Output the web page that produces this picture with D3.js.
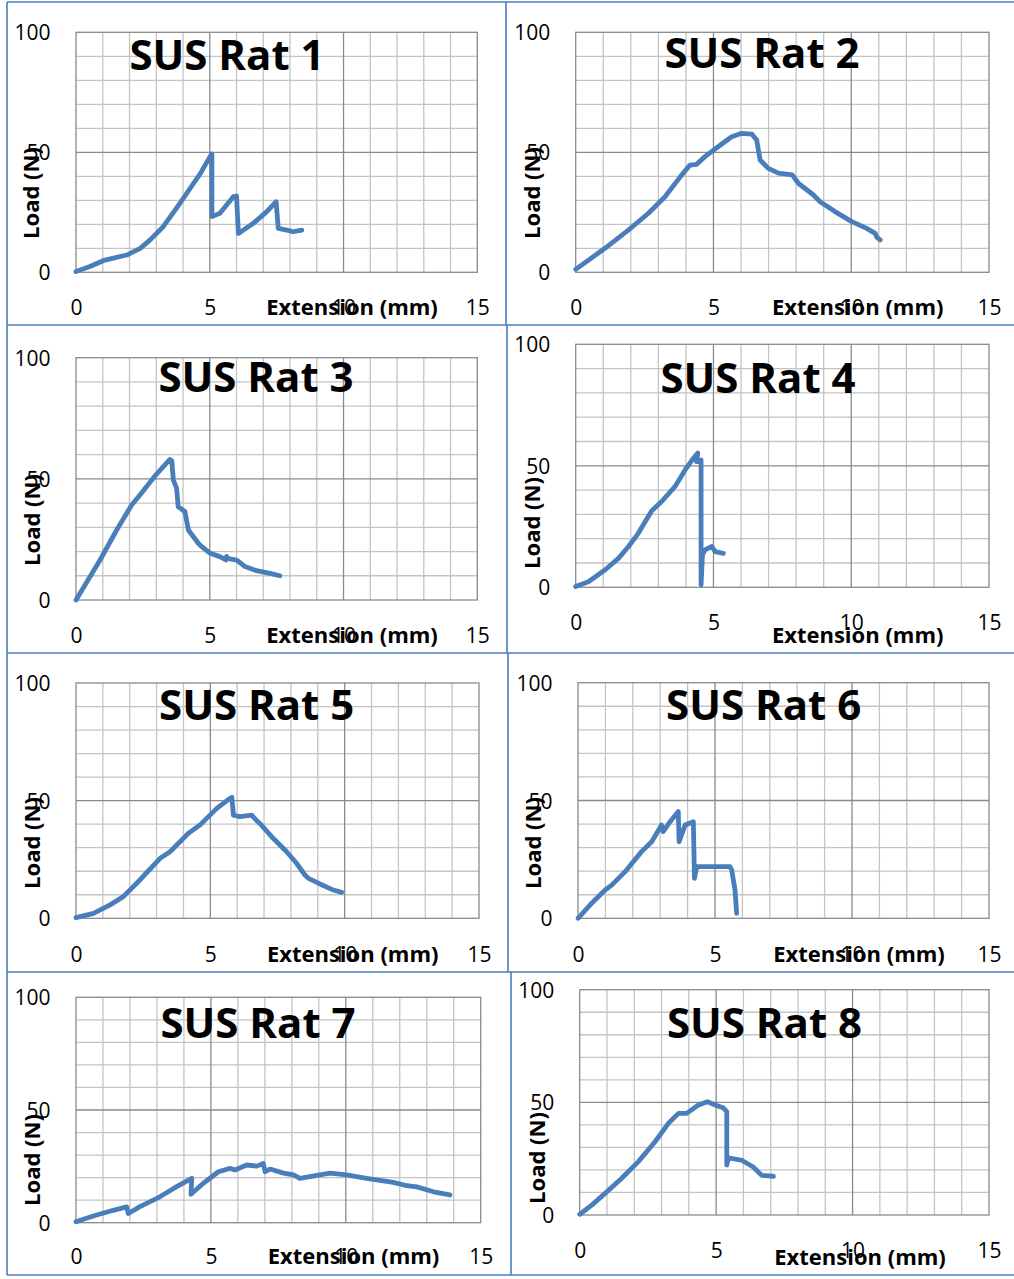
<!DOCTYPE html>
<html>
<head>
<meta charset="utf-8">
<script src="https://cdn.jsdelivr.net/npm/d3@7"></script>
<style>
  body { margin: 0; background: #fff; }
  text { font-family: 'Open Sans', sans-serif; }
</style>
</head>
<body>
<div class="result"></div>
<script>
// Load vs extension curves: [extension (mm), load (N)]
const rat1 = [[0, 0.3], [0.52, 2.4], [1.08, 5.1], [1.9, 7.2], [2.4, 10], [2.77, 13.5], [3.26, 19],
  [3.89, 28.8], [4.39, 37], [4.64, 41], [5.0, 48], [5.08, 49.3], [5.08, 23.2], [5.38, 24.6],
  [5.63, 28], [5.88, 31.5], [6.0, 31.8], [6.07, 16.2], [6.26, 17.6], [6.63, 20.4], [7.13, 25.3],
  [7.48, 29.4], [7.56, 18.3], [7.88, 17.6], [8.12, 16.9], [8.44, 17.6]];
const rat2 = [[0, 1.2], [1.06, 10], [1.91, 17.6], [2.64, 24.6], [3.24, 31.5], [3.85, 40.6],
  [4.15, 44.7], [4.39, 45], [4.69, 48.2], [5.18, 52.4], [5.66, 56.5], [6.03, 57.9], [6.39, 57.6],
  [6.57, 55.1], [6.65, 49.6], [6.69, 46.8], [6.99, 43.3], [7.36, 41.3], [7.86, 40.6], [8.08, 37.1],
  [8.63, 32.2], [8.87, 29.4], [9.41, 25.3], [10.02, 21.1], [10.56, 18.3], [10.87, 16.2],
  [10.93, 14.6], [11.05, 13.5]];
const rat3 = [[0, 0], [0.9, 16.5], [1.52, 28.9], [2.08, 39.2], [2.39, 43.3], [3.01, 52], [3.51, 58],
  [3.58, 57.5], [3.64, 49.5], [3.76, 46.1], [3.82, 38.5], [4.07, 36.5], [4.2, 28.9], [4.57, 23.4],
  [4.7, 22], [5.01, 19.3], [5.38, 17.9], [5.6, 16.5], [5.63, 18], [5.66, 17.2], [6.0, 16.5],
  [6.32, 13.8], [6.75, 12.1], [7.25, 11], [7.62, 10]];
const rat4 = [[0, 0.3], [0.46, 2.3], [1.06, 7.1], [1.55, 11.9], [1.91, 16.7], [2.27, 22.2],
  [2.76, 31.5], [3.12, 35.3], [3.6, 41.4], [3.97, 48.3], [4.27, 53.1], [4.43, 55.2], [4.39, 51.7],
  [4.55, 52.4], [4.55, 1], [4.6, 13.3], [4.69, 15.4], [4.94, 16.8], [5.06, 14.7], [5.36, 14]];
const rat5 = [[0, 0.3], [0.65, 2.1], [1.27, 5.7], [1.76, 9.2], [2.26, 14.9], [3.13, 25.5],
  [3.5, 28.3], [4.18, 36.1], [4.62, 39.7], [5.24, 46.7], [5.73, 51], [5.8, 51.4], [5.86, 43.8],
  [6.1, 43.2], [6.54, 43.8], [6.72, 41.6], [6.85, 40.2], [7.34, 34], [7.84, 28.3], [8.21, 23.4],
  [8.52, 18.4], [8.65, 17], [9.08, 14.6], [9.58, 12], [9.89, 11]];
const rat6 = [[0, 0], [0.5, 6.4], [0.99, 12], [1.23, 14.1], [1.72, 19.8], [2.32, 28.3], [2.69, 32.5],
  [3.05, 39.6], [3.11, 36.8], [3.36, 41], [3.66, 45.3], [3.69, 32.5], [3.91, 39.6], [4.21, 41],
  [4.25, 17], [4.33, 21.9], [4.88, 21.9], [5.55, 21.9], [5.61, 20.5], [5.73, 12], [5.79, 2.1]];
const rat7 = [[0, 0.4], [0.64, 3], [1.38, 5.5], [1.88, 7], [1.94, 4.1], [2.37, 7.1], [3.11, 11.5],
  [3.73, 16], [4.29, 19.7], [4.26, 12.6], [4.72, 17.5], [5.28, 22.6], [5.71, 24.1], [5.89, 23.4],
  [6.33, 25.6], [6.7, 25.1], [6.94, 26.3], [7.01, 22.6], [7.19, 23.8], [7.69, 22], [8.06, 21.2],
  [8.3, 19.7], [8.67, 20.4], [9.42, 22], [10.03, 21.2], [10.77, 19.7], [11.76, 17.9],
  [12.26, 16.4], [12.63, 15.9], [13.25, 13.7], [13.86, 12.3]];
const rat8 = [[0, 0.3], [0.44, 4.4], [0.93, 9.6], [1.54, 16.3], [2.15, 23.7], [2.76, 32.5],
  [3.25, 40.7], [3.62, 45.1], [3.92, 45.1], [4.35, 48.8], [4.68, 50.3], [4.96, 48.8], [5.26, 47.6],
  [5.39, 45.9], [5.39, 22.2], [5.45, 25.4], [5.94, 24.3], [6.36, 21.3], [6.67, 17.6], [7.1, 17.2]];

const series = [rat1, rat2, rat3, rat4, rat5, rat6, rat7, rat8];
const titles = ['SUS Rat 1', 'SUS Rat 2', 'SUS Rat 3', 'SUS Rat 4',
  'SUS Rat 5', 'SUS Rat 6', 'SUS Rat 7', 'SUS Rat 8'];
const xTicks = [0, 5, 10, 15];
const yTicks = [0, 50, 100];
const xLabel = 'Extension (mm)';
const yLabel = 'Load (N)';

// Where each chart sits on the page (plot box, title, axis titles)
const frames = [
  { l: 76, r: 477.3, t: 32.3, b: 272.3, title: [227, 70], xt: [352, 315], yt: [31, 193] },
  { l: 575.7, r: 989, t: 32.3, b: 272.3, title: [762, 68.3], xt: [857.7, 315], yt: [532, 193] },
  { l: 76, r: 477.3, t: 357.7, b: 600, title: [256, 391.7], xt: [352, 642.7], yt: [32, 520] },
  { l: 575.7, r: 989, t: 344.3, b: 587.3, title: [758, 393.3], xt: [857.7, 642.7], yt: [532, 523] },
  { l: 76, r: 479, t: 683, b: 918.3, title: [256.7, 720], xt: [352.7, 961.7], yt: [32, 843] },
  { l: 578, r: 989, t: 682.7, b: 918.3, title: [763.7, 720], xt: [859, 961.7], yt: [533, 843] },
  { l: 76, r: 480.7, t: 997.3, b: 1222.7, title: [258, 1037.7], xt: [353.5, 1264.3], yt: [32, 1160] },
  { l: 579.7, r: 989, t: 989.7, b: 1215, title: [764.5, 1037.7], xt: [860, 1265], yt: [537, 1158] }
];

const w = 1014;
const h = 1279;
const blue = '#4a7ebb';

const svg = d3.select('.result')
  .append('svg')
  .attr('width', w)
  .attr('height', h);

// Panel borders
const border = svg.append('g')
  .attr('stroke', blue)
  .attr('stroke-width', 1.6);
[2, 325, 653, 972, 1275].forEach(function (y) {
  border.append('line').attr('x1', 7).attr('x2', w).attr('y1', y).attr('y2', y);
});
border.append('line').attr('x1', 7).attr('x2', 7).attr('y1', 2).attr('y2', 1275);
[[506, 2, 325], [507, 325, 653], [508, 653, 972], [511, 972, 1275]].forEach(function (s) {
  border.append('line').attr('x1', s[0]).attr('x2', s[0]).attr('y1', s[1]).attr('y2', s[2]);
});

series.forEach(function (data, i) {
  const f = frames[i];
  const xScale = d3.scaleLinear().domain([0, 15]).range([f.l, f.r]);
  const yScale = d3.scaleLinear().domain([0, 100]).range([f.b, f.t]);
  const g = svg.append('g');

  // Minor grid
  g.append('g').selectAll('line')
    .data(d3.range(0, 16).filter(function (v) { return v % 5 !== 0; }))
    .enter().append('line')
    .attr('x1', function (d) { return xScale(d); })
    .attr('x2', function (d) { return xScale(d); })
    .attr('y1', f.t).attr('y2', f.b)
    .attr('stroke', '#c4c4c4').attr('stroke-width', 1.3);
  g.append('g').selectAll('line')
    .data(d3.range(10, 100, 10).filter(function (v) { return v % 50 !== 0; }))
    .enter().append('line')
    .attr('y1', function (d) { return yScale(d); })
    .attr('y2', function (d) { return yScale(d); })
    .attr('x1', f.l).attr('x2', f.r)
    .attr('stroke', '#c4c4c4').attr('stroke-width', 1.3);

  // Major grid
  g.append('g').selectAll('line')
    .data([5, 10])
    .enter().append('line')
    .attr('x1', function (d) { return xScale(d); })
    .attr('x2', function (d) { return xScale(d); })
    .attr('y1', f.t).attr('y2', f.b)
    .attr('stroke', '#8a8a8a').attr('stroke-width', 1.3);
  g.append('line')
    .attr('x1', f.l).attr('x2', f.r)
    .attr('y1', yScale(50)).attr('y2', yScale(50))
    .attr('stroke', '#8a8a8a').attr('stroke-width', 1.3);
  g.append('rect')
    .attr('x', f.l).attr('y', f.t)
    .attr('width', f.r - f.l).attr('height', f.b - f.t)
    .attr('fill', 'none')
    .attr('stroke', '#8a8a8a').attr('stroke-width', 1.3);

  // Title
  g.append('text')
    .attr('x', f.title[0]).attr('y', f.title[1])
    .attr('text-anchor', 'middle')
    .attr('font-size', 42).attr('font-weight', 'bold')
    .text(titles[i]);

  // Curve
  g.append('path')
    .datum(data)
    .attr('fill', 'none')
    .attr('stroke', blue)
    .attr('stroke-width', 4.8)
    .attr('stroke-linejoin', 'round')
    .attr('stroke-linecap', 'round')
    .attr('d', d3.line()
      .x(function (d) { return xScale(d[0]); })
      .y(function (d) { return yScale(d[1]); }));

  // X axis labels
  const xAxis = d3.axisBottom(xScale).tickValues(xTicks).tickSize(0);
  const xg = g.append('g')
    .attr('transform', 'translate(0,' + f.b + ')')
    .call(xAxis);
  xg.select('.domain').remove();
  xg.selectAll('text')
    .attr('y', (i === 3 || i === 7 ? 43 : f.xt[1] - f.b))
    .attr('dy', 0)
    .attr('fill', '#000')
    .attr('font-size', 21)
    .attr('font-family', "'Open Sans', sans-serif");

  // Y axis labels
  const yAxis = d3.axisLeft(yScale).tickValues(yTicks).tickSize(0);
  const yg = g.append('g')
    .attr('transform', 'translate(' + f.l + ',0)')
    .call(yAxis);
  yg.select('.domain').remove();
  yg.selectAll('text')
    .attr('x', -25.5)
    .attr('dy', '0.36em')
    .attr('fill', '#000')
    .attr('font-size', 21)
    .attr('font-family', "'Open Sans', sans-serif");

  // Axis titles
  g.append('text')
    .attr('x', f.xt[0]).attr('y', f.xt[1])
    .attr('text-anchor', 'middle')
    .attr('font-size', 22).attr('font-weight', 'bold')
    .text(xLabel);
  g.append('text')
    .attr('transform', 'translate(' + f.yt[0] + ',' + f.yt[1] + ') rotate(-90)')
    .attr('text-anchor', 'middle')
    .attr('dy', '0.36em')
    .attr('font-size', 22).attr('font-weight', 'bold')
    .text(yLabel);
});
</script>
</body>
</html>
